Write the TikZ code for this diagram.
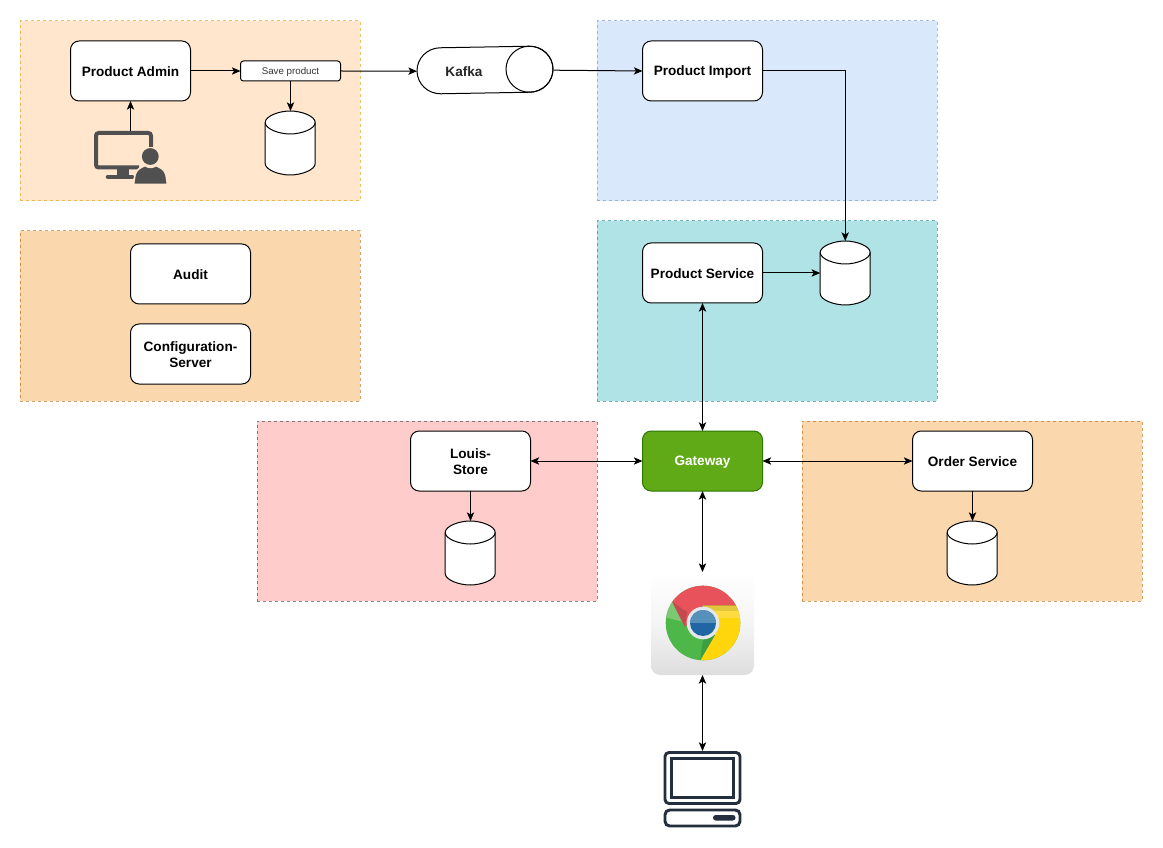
\documentclass[tikz,border=0pt]{standalone}
\usepackage{fontspec}
\setmainfont{Liberation Sans}
\usetikzlibrary{arrows.meta}
\definecolor{icongray}{HTML}{505050}
\definecolor{laptopc}{HTML}{232F3E}
\definecolor{gategreen}{HTML}{60A917}
\definecolor{gatedark}{HTML}{2D7600}
\definecolor{ofill}{HTML}{FFE6CC}
\definecolor{oline}{HTML}{D79B00}
\definecolor{o2fill}{HTML}{FAD7AC}
\definecolor{o2line}{HTML}{B46504}
\definecolor{bfill}{HTML}{DAE8FC}
\definecolor{bline}{HTML}{6C8EBF}
\definecolor{tfill}{HTML}{B0E3E6}
\definecolor{tline}{HTML}{0E8088}
\definecolor{rfill}{HTML}{FFCCCC}
\definecolor{rline}{HTML}{36393D}
\definecolor{chgreen}{HTML}{4DB749}
\definecolor{chgreenl}{HTML}{7DC873}
\definecolor{chgreend}{HTML}{3E9E44}
\definecolor{chred}{HTML}{E8525A}
\definecolor{chredd}{HTML}{C44A4E}
\definecolor{chyel}{HTML}{FFD50C}
\definecolor{chyell}{HTML}{FFDC42}
\definecolor{chyeld}{HTML}{E2C63D}
\definecolor{chring}{HTML}{E4E8EA}
\definecolor{chblue}{HTML}{2166A4}
\definecolor{chbluel}{HTML}{5691BC}
\tikzset{
  panel/.style={draw=#1,draw opacity=0.6,dash pattern=on 2.25pt off 2.25pt,line width=0.75pt,minimum width=255pt,minimum height=135pt,inner sep=0pt,outer sep=0pt},
  svc/.style={draw=black,fill=white,rounded corners=6.5pt,line width=0.75pt,minimum width=90pt,minimum height=45pt,inner sep=0pt,outer sep=0pt,align=center,font=\bfseries\fontsize{10.2}{12}\selectfont},
  savebox/.style={draw=black,fill=white,rounded corners=2.2pt,line width=0.75pt,minimum width=75pt,minimum height=15pt,inner sep=0pt,outer sep=0pt,font=\fontsize{7.3}{9}\selectfont,text=black!80},
  gatebox/.style={svc,draw=gatedark,fill=gategreen,text=white},
  ghost/.style={inner sep=0pt,outer sep=0pt},
  arr/.style={line width=0.75pt,-{Stealth[length=6.5pt,width=5.5pt,inset=1.6pt]}},
  barr/.style={line width=0.75pt,{Stealth[length=6.5pt,width=5.5pt,inset=1.6pt]}-{Stealth[length=6.5pt,width=5.5pt,inset=1.6pt]}},
  dbshape/.style={draw=black,fill=white,line width=0.75pt},
}
\newcommand{\dbcyl}[3]{% name, center x, center y
  \node[ghost,minimum width=37.5pt,minimum height=48pt] (#1) at (#2,#3) {};
  \begin{scope}[shift={(#2,#3)}]
    \path[dbshape] (-25,-20.5) -- (-25,20.5) .. controls (-25,27) and (-11,32) .. (0,32) .. controls (11,32) and (25,27) .. (25,20.5) -- (25,-20.5) .. controls (25,-27) and (11,-32) .. (0,-32) .. controls (-11,-32) and (-25,-27) .. (-25,-20.5) -- cycle;
    \draw[line width=0.75pt] (-25,-20.5) .. controls (-25,-14) and (-11,-9) .. (0,-9) .. controls (11,-9) and (25,-14) .. (25,-20.5);
  \end{scope}
}
\newcommand{\lowered}[1]{\raisebox{-0.6pt}[\height][\depth]{#1}}
\begin{document}
\begin{tikzpicture}[x=0.75pt,y=-0.75pt]
\useasboundingbox[fill=white] (0,0) rectangle (1163,848);
\begin{scope}[shift={(0.5,0.5)}]
% panels
\node[panel=oline,fill=ofill] (pA) at (189.75,110.5) {};
\node[panel=o2line,fill=o2fill,minimum height=127.5pt] (pB) at (189.75,315.5) {};
\node[panel=bline,fill=bfill] (pC) at (766.75,110.5) {};
\node[panel=tline,fill=tfill] (pD) at (766.75,310.5) {};
\node[panel=rline,fill=rfill] (pE) at (426.75,510.5) {};
\node[panel=o2line,fill=o2fill] (pF) at (971.75,510.5) {};
% services
\node[svc] (admin) at (130,70.5) {\lowered{Product Admin}};
\node[savebox] (save) at (290,70.5) {\lowered{Save product}};
\node[svc] (pimport) at (702,70.5) {\lowered{Product Import}};
\node[svc] (pservice) at (702,272.5) {\lowered{Product Service}};
\node[svc] (audit) at (190,273.5) {\lowered{Audit}};
\node[svc] (config) at (190,353.5) {\lowered{Configuration-}\\\lowered{Server}};
\node[svc] (louis) at (470,460.5) {\lowered{Louis-}\\\lowered{Store}};
\node[gatebox] (gateway) at (702,460.5) {\lowered{Gateway}};
\node[svc] (order) at (972,460.5) {\lowered{Order Service}};
% cylinders
\dbcyl{dbA}{289.7}{142.5}
\dbcyl{dbP}{844.7}{272.5}
\dbcyl{dbL}{469.7}{552.5}
\dbcyl{dbO}{971.7}{552.5}
\end{scope}
% Kafka
\begin{scope}[rotate around={1:(485,70)}]
  \draw[line width=0.75pt,fill=white] (440.5,47) -- (529.5,47) .. controls (542.5,47) and (553,57.3) .. (553,70) .. controls (553,82.7) and (542.5,93) .. (529.5,93) -- (440.5,93) .. controls (427.5,93) and (417,82.7) .. (417,70) .. controls (417,57.3) and (427.5,47) .. (440.5,47) -- cycle;
  \draw[line width=0.75pt] (529.5,70) ellipse [x radius=23.5,y radius=23];
\end{scope}
\node[ghost,minimum width=102pt,minimum height=34.5pt,rotate=1] (kafka) at (485,70) {};
\coordinate (kafkaout) at (553.5,70.2);
\node[ghost,font=\bfseries\fontsize{10.2}{12}\selectfont,text=black!85] (kafkalabel) at (464,71.5) {Kafka};
% admin user icon
\node[ghost,minimum width=54.75pt,minimum height=39.75pt] (user) at (130.5,157.5) {};
\fill[icongray] (117,168) rectangle (129,176);
\draw[icongray,line width=3.4pt,line cap=round,line join=round] (108,177) -- (132,177);
\draw[icongray,line width=3pt,rounded corners=2pt] (151,147) -- (151,133) -- (96,133) -- (96,167.5) -- (139,167.5);
\path[draw=ofill,line width=1.2pt,fill=icongray] (133.5,184.5) -- (135,175) .. controls (136,169.5) and (141,167.5) .. (145,165.5) .. controls (148,168) and (153,168) .. (156,165.5) .. controls (160,167.5) and (165,169.5) .. (166,175) -- (167.5,184.5) -- cycle;
\fill[icongray] (150.3,156.5) circle [radius=8.4];
% chrome icon
\node[ghost,minimum width=77.25pt,minimum height=77.25pt] (chrome) at (702.5,623.5) {};
\shade[top color=white,bottom color=black!13,middle color=black!4,rounded corners=7pt] (651,572) rectangle (754,675);
\begin{scope}
  \clip (703,623) circle [radius=37.3];
  \fill[chgreen] (660,580) rectangle (745,665);
  \fill[chgreenl] (672.3,601.7) -- (684,622) -- (660,616) -- (660,595) -- cycle;
  \fill[chred] (685,627) -- (672.3,601.7) -- (660,585) -- (750,580) -- (735.7,605.7) -- (703,605.7) -- cycle;
  \fill[chredd] (672.3,601.7) -- (685,627) -- (687,612) -- cycle;
  \fill[chyel] (703,605.7) -- (735.7,605.7) -- (750,605) -- (750,665) -- (700,660.7) -- (715,635) -- cycle;
  \fill[chyell] (703,610.5) rectangle (750,618);
  \fill[chyeld] (703,605.7) rectangle (750,610.5);
  \fill[chgreend] (700,660.7) -- (715,635) -- (703,640) -- cycle;
\end{scope}
\fill[chring] (703,623) circle [radius=16.3];
\fill[chblue] (703,623) circle [radius=13];
\begin{scope}
  \clip (688,608) rectangle (718,622);
  \fill[chbluel] (703,623) circle [radius=13];
\end{scope}
% laptop icon
\node[ghost,minimum width=57.75pt,minimum height=57pt] (laptop) at (702.5,789) {};
\draw[laptopc,line width=2.2pt,rounded corners=3pt] (665,752.5) rectangle (740,803.5);
\draw[laptopc,line width=2.2pt] (671.5,758.5) rectangle (733.5,797.5);
\draw[laptopc,line width=2.2pt,rounded corners=3.5pt] (665,810) rectangle (740,826);
\fill[laptopc,rounded corners=2pt] (713,815) rectangle (735.5,820.5);
% connectors
\draw[arr] (user.north) -- (admin.south -| user.north);
\draw[arr] (admin.east) -- (save.west);
\draw[arr] (save.south) -- (save.south |- dbA.north);
\draw[arr] (save.east) -- (kafka.west);
\draw[arr] (kafkaout) -- (pimport.west);
\draw[arr] (pimport.east) -| (dbP.north);
\draw[arr] (pservice.east) -- (pservice.east -| dbP.west);
\draw[barr] (pservice.south) -- (gateway.north);
\draw[barr] (louis.east) -- (gateway.west);
\draw[barr] (gateway.east) -- (order.west);
\draw[arr] (louis.south) -- (louis.south |- dbL.north);
\draw[arr] (order.south) -- (order.south |- dbO.north);
\draw[barr] (gateway.south) -- (gateway.south |- chrome.north);
\draw[barr] (chrome.south -| laptop.north) -- (laptop.north);
\end{tikzpicture}
\end{document}
